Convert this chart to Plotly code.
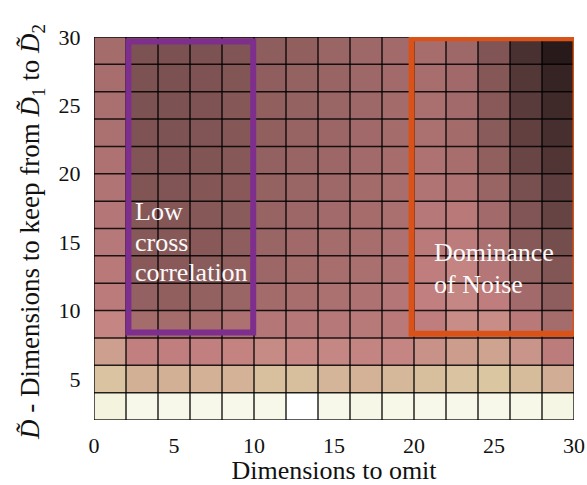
import numpy as np
import plotly.graph_objects as go

# Cell centres (each cell spans 2 units)
x_centers = [1, 3, 5, 7, 9, 11, 13, 15, 17, 19, 21, 23, 25, 27, 29]
y_centers = [3, 5, 7, 9, 11, 13, 15, 17, 19, 21, 23, 25, 27, 29]

# Normalised score per cell, one list per row (bottom row first)
row_y3 = [0.88, 0.92, 0.92, 0.92, 0.92, 0.92, 1.00, 0.92, 0.91, 0.915, 0.92, 0.92, 0.92, 0.915, 0.90]
row_y5 = [0.59, 0.52, 0.52, 0.525, 0.53, 0.58, 0.57, 0.54, 0.53, 0.545, 0.57, 0.59, 0.60, 0.565, 0.51]
row_y7 = [0.465, 0.37, 0.365, 0.37, 0.38, 0.405, 0.39, 0.395, 0.385, 0.39, 0.425, 0.455, 0.48, 0.43, 0.355]
row_y9 = [0.39, 0.27, 0.268, 0.275, 0.295, 0.32, 0.325, 0.33, 0.335, 0.34, 0.36, 0.41, 0.41, 0.34, 0.27]
row_y11 = [0.35, 0.215, 0.21, 0.218, 0.235, 0.265, 0.28, 0.29, 0.30, 0.32, 0.37, 0.395, 0.36, 0.26, 0.20]
row_y13 = [0.34, 0.185, 0.185, 0.19, 0.21, 0.245, 0.265, 0.278, 0.285, 0.30, 0.36, 0.385, 0.32, 0.22, 0.17]
row_y15 = [0.33, 0.18, 0.178, 0.185, 0.20, 0.235, 0.255, 0.27, 0.28, 0.295, 0.345, 0.355, 0.29, 0.18, 0.135]
row_y17 = [0.32, 0.175, 0.172, 0.178, 0.19, 0.225, 0.245, 0.258, 0.272, 0.285, 0.33, 0.34, 0.26, 0.165, 0.105]
row_y19 = [0.31, 0.168, 0.165, 0.172, 0.185, 0.22, 0.235, 0.25, 0.265, 0.28, 0.31, 0.295, 0.23, 0.145, 0.085]
row_y21 = [0.30, 0.165, 0.16, 0.168, 0.18, 0.215, 0.23, 0.245, 0.26, 0.275, 0.30, 0.28, 0.21, 0.11, 0.065]
row_y23 = [0.29, 0.16, 0.158, 0.165, 0.175, 0.21, 0.225, 0.24, 0.255, 0.27, 0.29, 0.265, 0.19, 0.095, 0.05]
row_y25 = [0.285, 0.155, 0.155, 0.16, 0.175, 0.21, 0.22, 0.235, 0.25, 0.265, 0.285, 0.26, 0.185, 0.08, 0.04]
row_y27 = [0.28, 0.155, 0.15, 0.16, 0.17, 0.205, 0.22, 0.23, 0.25, 0.26, 0.28, 0.255, 0.175, 0.07, 0.03]
row_y29 = [0.27, 0.155, 0.15, 0.155, 0.165, 0.20, 0.21, 0.235, 0.25, 0.26, 0.275, 0.25, 0.165, 0.055, 0.02]

z = [row_y3, row_y5, row_y7, row_y9, row_y11, row_y13, row_y15,
     row_y17, row_y19, row_y21, row_y23, row_y25, row_y27, row_y29]

x_ticks = [0, 5, 10, 15, 20, 25, 30]
y_ticks = [5, 10, 15, 20, 25, 30]

x_title = "Dimensions to omit"
y_title = "<i>D̃</i> - Dimensions to keep from <i>D̃</i><sub>1</sub> to <i>D̃</i><sub>2</sub>"

# Highlighted regions: (x0, x1, y0, y1)
low_corr_box = (2.15, 9.95, 8.4, 29.67)
noise_box = (19.85, 30.1, 8.3, 29.9)

# Region captions, one entry per line: (text, x, y)
low_corr_lines = [("Low", 2.45, 17.25), ("cross", 2.45, 14.95), ("correlation", 2.45, 12.75)]
noise_lines = [("Dominance", 21.1, 14.25), ("of Noise", 21.1, 11.9)]

SERIF = "Liberation Serif, Times New Roman, Times, serif"


def pink_colorscale():
    """'pink' colormap: sqrt((2*gray + hot) / 3)."""
    ts = sorted(set(np.round(np.linspace(0, 1, 41), 4).tolist() + [0.375, 0.75]))
    scale = []
    for t in ts:
        r_h = min(1.0, t / 0.375)
        g_h = min(1.0, max(0.0, (t - 0.375) / 0.375))
        b_h = min(1.0, max(0.0, (t - 0.75) / 0.25))
        rgb = [np.sqrt((2 * t + h) / 3) for h in (r_h, g_h, b_h)]
        scale.append([t, "rgb({},{},{})".format(*[int(round(255 * c)) for c in rgb])])
    return scale


fig = go.Figure(
    go.Heatmap(
        x=x_centers, y=y_centers, z=z,
        colorscale=pink_colorscale(), zmin=0, zmax=1,
        showscale=False,
    )
)

# Cell borders
x_edges = [x_centers[0] - 1] + [c + 1 for c in x_centers]
y_edges = [y_centers[0] - 1] + [c + 1 for c in y_centers]
line_style = dict(color="rgba(0,0,0,0.85)", width=1.5)
for xe in x_edges:
    fig.add_shape(type="line", x0=xe, x1=xe, y0=y_edges[0], y1=y_edges[-1],
                  line=line_style, layer="above")
for ye in y_edges:
    fig.add_shape(type="line", x0=x_edges[0], x1=x_edges[-1], y0=ye, y1=ye,
                  line=line_style, layer="above")

# Region outlines
for box, col in ((low_corr_box, "rgb(126,47,142)"), (noise_box, "rgb(217,83,25)")):
    fig.add_shape(type="rect", x0=box[0], x1=box[1], y0=box[2], y1=box[3],
                  line=dict(color=col, width=6), layer="above")

label_font = dict(family=SERIF, size=26, color="#fafafa")
for text, lx, ly in low_corr_lines + noise_lines:
    fig.add_annotation(x=lx, y=ly, xref="x", yref="y", text=text,
                       showarrow=False, xanchor="left", yanchor="middle", align="left",
                       font=label_font)

# Vertical axis title, placed in paper coordinates left of the tick labels
fig.add_annotation(x=-0.128, y=0.49, xref="paper", yref="paper", text=y_title,
                   showarrow=False, textangle=-90, xanchor="center", yanchor="middle",
                   font=dict(family=SERIF, size=27, color="#111"))

axis_font = dict(family=SERIF, size=22, color="#111")
fig.update_xaxes(
    range=[0, 30], tickvals=x_ticks, showgrid=False, zeroline=False, automargin=False,
    ticks="outside", ticklen=6, tickcolor="rgba(0,0,0,0)", tickfont=axis_font,
    title=dict(text=x_title, font=dict(family=SERIF, size=26, color="#111"), standoff=3),
)
fig.update_yaxes(
    range=[2, 30], tickvals=y_ticks, showgrid=False, zeroline=False, automargin=False,
    ticks="outside", ticklen=8, tickcolor="rgba(0,0,0,0)", tickfont=axis_font,
)

fig.update_layout(
    width=587, height=485,
    margin=dict(l=94, r=13, t=37, b=65),
    paper_bgcolor="white", plot_bgcolor="white",
)

fig.write_html("out.html")
